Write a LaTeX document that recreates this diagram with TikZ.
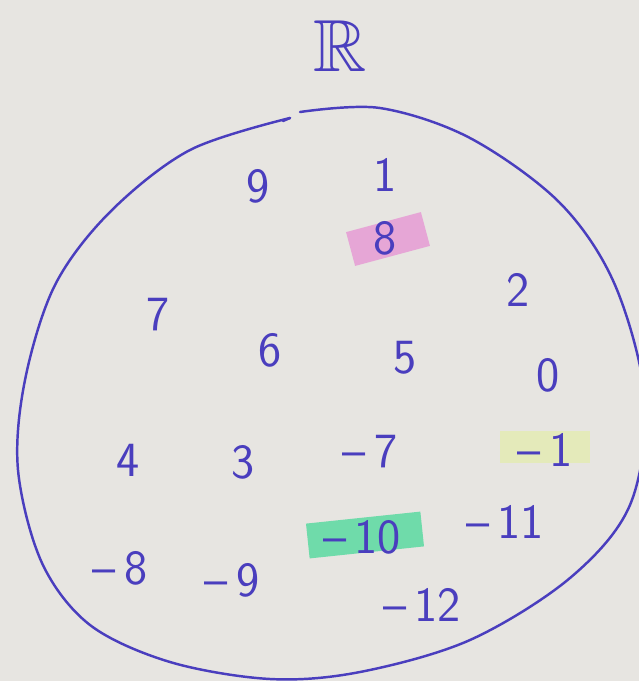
\documentclass[tikz,border=0pt]{standalone}
\usepackage{amsmath,amssymb}
\usepackage{tikz}
\usepackage{xcolor}
\definecolor{Paper}{HTML}{E7E5E1}
\definecolor{Ink}{HTML}{4A3EBE}
\definecolor{Pink}{HTML}{E6A6D6}
\definecolor{Lemon}{HTML}{E4EABA}
\definecolor{Mint}{HTML}{6FDBAA}

\begin{document}
\begin{tikzpicture}[x=0.02cm,y=-0.02cm,
  num/.style={text=Ink,font=\sffamily\fontsize{28}{30}\selectfont,inner sep=1pt},
  hl/.style={fill=#1,minimum height=0.7cm,inner sep=0pt},
  blob/.style={draw=Ink,line width=1.4pt,line cap=round}]
  \fill[Paper] (0,0) rectangle (639,681);
  \useasboundingbox (0,0) rectangle (639,681);
  \begin{scope}
  \clip (0,0) rectangle (639,681);
  \node[hl=Pink,minimum width=1.55cm,rotate=15] (h8) at (388,239) {};
  \node[hl=Lemon,minimum width=1.8cm,minimum height=0.64cm] (h1) at (545,447) {};
  \node[hl=Mint,minimum width=2.3cm,rotate=6] (h10) at (365,535) {};

  \draw[blob] plot[smooth,tension=0.55] coordinates {(300,112) (380,108) (470,138)
    (560,203) (615,285) (645,400) (630,505) (570,578) (470,640) (360,672)
    (270,679) (170,662) (90,625) (42,563) (18,470) (25,380) (55,285)
    (110,212) (190,150) (290,118)};
  \draw[blob] (290,118) -- (283,121);
  \end{scope}

  \node[text=Ink,font=\fontsize{42}{46}\selectfont] (set) at (340,46) {$\mathbb{R}$};

  \node[num] (n9) at (258,186) {9};
  \node[num] (n1) at (385,175) {1};
  \node[num] (n8) at (385,238) {8};
  \node[num] (n2) at (518,290) {2};
  \node[num] (n7) at (158,315) {7};
  \node[num] (n6) at (270,350) {6};
  \node[num] (n5) at (405,358) {5};
  \node[num] (n0) at (548,375) {0};
  \node[num] (n4) at (128,460) {4};
  \node[num] (n3) at (243,462) {3};
  \node[num] (nm7) at (370,452) {\textendash\,7};
  \node[num] (nm1) at (545,450) {\textendash\,1};
  \node[num] (nm10) at (362,537) {\textendash\,10};
  \node[num] (nm11) at (505,522) {\textendash\,11};
  \node[num] (nm8) at (120,568) {\textendash\,8};
  \node[num] (nm9) at (232,580) {\textendash\,9};
  \node[num] (nm12) at (422,605) {\textendash\,12};
\end{tikzpicture}
\end{document}
